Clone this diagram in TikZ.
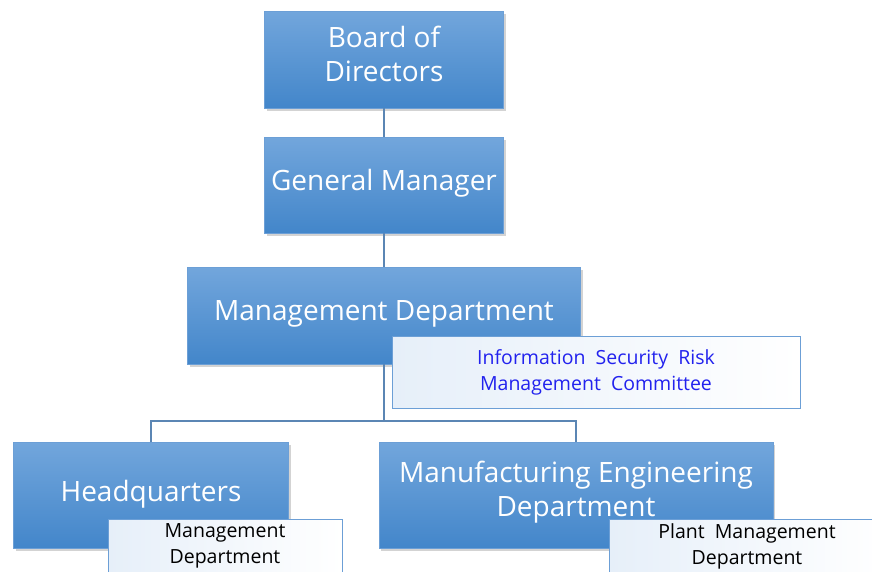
\documentclass[tikz,border=0pt]{standalone}
\usepackage{fontspec}
\setmainfont{Open Sans}
\usetikzlibrary{shadows}

\definecolor{boxtop}{HTML}{72A6DC}
\definecolor{boxbot}{HTML}{4386CA}
\definecolor{boxline}{HTML}{6C9FD6}
\definecolor{linkcol}{HTML}{5B86B4}
\definecolor{infoblue}{HTML}{2222EE}
\definecolor{subtint}{HTML}{E6EFF9}

\begin{document}
\begin{tikzpicture}[x=1pt,y=-1pt,
    unit/.style={draw=boxline, top color=boxtop, bottom color=boxbot,
      drop shadow={opacity=0.35, shadow xshift=2pt, shadow yshift=-3pt},
      text=white, align=center, inner sep=0pt,
      font=\fontsize{28}{34}\selectfont},
    sub/.style={draw=boxline, line width=0.8pt, left color=subtint, right color=white,
      align=center, inner sep=0pt, font=\fontsize{19.5}{26}\selectfont},
    link/.style={draw=linkcol, line width=1.2pt}]
  \useasboundingbox (0,0) rectangle (872,571);

  % main units (the trailing \\[..] lifts the text a little)
  \node[unit, minimum width=239pt, minimum height=97pt]  (B) at (384,59.5)  {Board of\\Directors\\[-22pt]};
  \node[unit, minimum width=239pt, minimum height=96pt]  (G) at (384,185)   {General Manager\\[-24pt]};
  \node[unit, minimum width=393pt, minimum height=97pt]  (M) at (384,315.5) {Management Department\\[-24pt]};
  \node[unit, minimum width=275pt, minimum height=106pt] (H) at (151,495)   {Headquarters\\[-26pt]};
  \node[unit, minimum width=394pt, minimum height=106pt] (E) at (576,495)   {Manufacturing Engineering\\Department\\[-22pt]};
  \coordinate (J) at (384,421);

  % connectors
  \draw[link] (B) -- (G);
  \draw[link] (G) -- (M);
  \draw[link] (M) -- (J);
  \draw[link] (J) -| (H);
  \draw[link] (J) -| (E);

  % attached committees and departments
  \node[sub, text=infoblue, minimum width=408pt, minimum height=72pt] (I) at (596,372)
    {Information\ \ Security\ \ Risk\\Management\ \ Committee};
  \node[sub, minimum width=234pt, minimum height=54pt] (HM) at (225,546)
    {Management\\Department};
  \node[sub, minimum width=276pt, minimum height=54pt] (EP) at (747,546)
    {Plant\ \ Management\\Department};
\end{tikzpicture}
\end{document}
